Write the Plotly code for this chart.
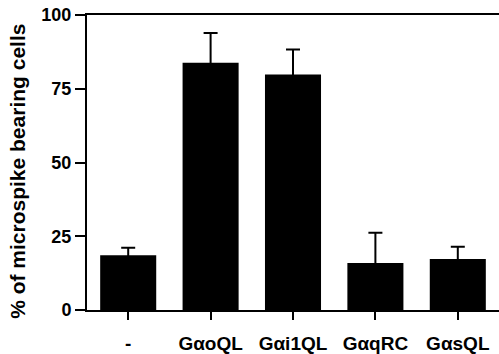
import plotly.graph_objects as go

categories = ["-", "GαoQL", "Gαi1QL", "GαqRC", "GαsQL"]
means = [18.6, 83.8, 79.8, 15.9, 17.3]
sem = [2.5, 10.1, 8.5, 10.3, 4.1]
y_ticks = [0, 25, 50, 75, 100]
y_title = "% of microspike bearing cells"

FONT = "Liberation Sans, Arial, sans-serif"

fig = go.Figure()
fig.add_trace(go.Bar(
    x=list(range(len(categories))),
    y=means,
    marker=dict(color="black", line=dict(width=0)),
    error_y=dict(type="data", array=sem, color="black",
                 thickness=2, width=7),
    showlegend=False,
))

fig.update_layout(
    width=499, height=354,
    margin=dict(l=87, r=0, t=15, b=41),
    paper_bgcolor="white", plot_bgcolor="white",
    bargap=0.32,
    font=dict(family=FONT, color="black"),
    xaxis=dict(
        range=[-0.5, 4.5],
        tickvals=list(range(len(categories))),
        ticktext=categories,
        showline=True, linecolor="black", linewidth=2, mirror=True,
        ticks="outside", ticklen=8, tickwidth=1.5, tickcolor="black",
        tickfont=dict(family=FONT, size=19, weight="bold", color="black"),
        ticklabelstandoff=7,
        showgrid=False, zeroline=False,
    ),
    yaxis=dict(
        range=[0, 100],
        tickvals=y_ticks,
        showline=True, linecolor="black", linewidth=2,
        ticks="outside", ticklen=10, tickwidth=2, tickcolor="black",
        tickfont=dict(family=FONT, size=18, weight="bold", color="black"),
        showgrid=False, zeroline=False,
    ),
    annotations=[dict(
        text=y_title, xref="paper", yref="paper", x=0, y=0.47,
        xanchor="center", yanchor="middle", xshift=-69.5,
        textangle=-90, showarrow=False,
        font=dict(family=FONT, size=21, weight="bold", color="black"),
    )],
)

fig.write_html("out.html")
